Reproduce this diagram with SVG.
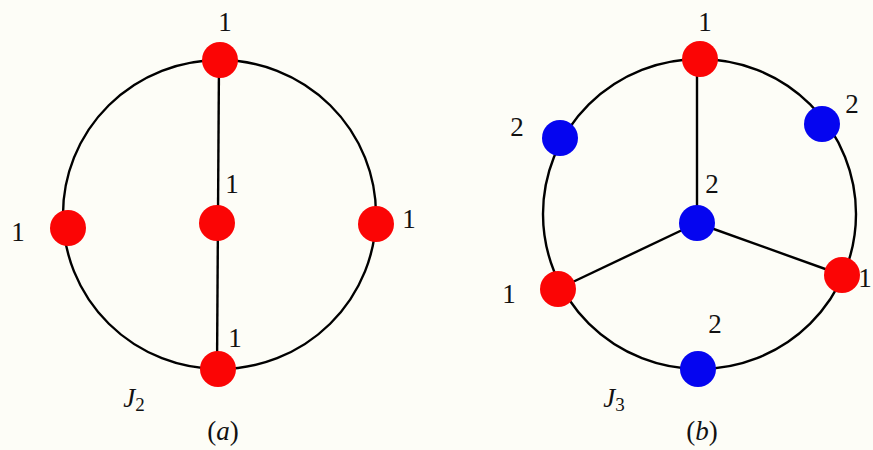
<svg xmlns="http://www.w3.org/2000/svg" width="873" height="450" viewBox="0 0 873 450">
<style>
.edge{fill:none;stroke:#000;stroke-width:2.4}
.r{fill:#fb0505}
.b{fill:#0505f0}
</style>
<rect width="873" height="450" fill="#fdfdf7"/>
<g id="connectors">
<ellipse class="edge" cx="219.5" cy="214.5" rx="156.5" ry="154.5"/>
<line class="edge" x1="219" y1="60" x2="217" y2="369"/>
<ellipse class="edge" cx="699.5" cy="214" rx="156.5" ry="155"/>
<line class="edge" x1="697" y1="59" x2="697" y2="223"/>
<line class="edge" x1="697" y1="223" x2="558" y2="289"/>
<line class="edge" x1="697" y1="223" x2="842" y2="275"/>
</g>
<g font-family="Liberation Serif, DejaVu Serif, serif" font-size="27" fill="#111" text-anchor="middle">
<g id="a-top"><circle class="r" cx="220" cy="60" r="18"/><text x="225" y="31">1</text></g>
<g id="a-left"><circle class="r" cx="68" cy="228" r="18"/><text x="18" y="241">1</text></g>
<g id="a-center"><circle class="r" cx="217" cy="223" r="18"/><text x="232" y="193">1</text></g>
<g id="a-right"><circle class="r" cx="376" cy="224" r="18"/><text x="409" y="228">1</text></g>
<g id="a-bottom"><circle class="r" cx="218" cy="369" r="18"/><text x="235" y="347">1</text></g>
<g id="b-top"><circle class="r" cx="700" cy="59" r="18"/><text x="705" y="31">1</text></g>
<g id="b-upleft"><circle class="b" cx="560" cy="138" r="18"/><text x="517" y="136">2</text></g>
<g id="b-upright"><circle class="b" cx="822" cy="124" r="18"/><text x="852" y="113">2</text></g>
<g id="b-center"><circle class="b" cx="697" cy="223" r="18"/><text x="712" y="193">2</text></g>
<g id="b-left"><circle class="r" cx="558" cy="289" r="18"/><text x="509" y="303">1</text></g>
<g id="b-right"><circle class="r" cx="842" cy="275" r="18"/><text x="865" y="287">1</text></g>
<g id="b-bottom"><circle class="b" cx="698" cy="369" r="18"/><text x="715" y="333">2</text></g>
<g id="captions">
<text font-style="italic" x="134" y="407">J<tspan font-style="normal" font-size="19" dy="4">2</tspan></text>
<text x="223" y="440">(<tspan font-style="italic">a</tspan>)</text>
<text font-style="italic" x="614" y="407">J<tspan font-style="normal" font-size="19" dy="4">3</tspan></text>
<text x="702" y="440">(<tspan font-style="italic">b</tspan>)</text>
</g>
</g>
</svg>
